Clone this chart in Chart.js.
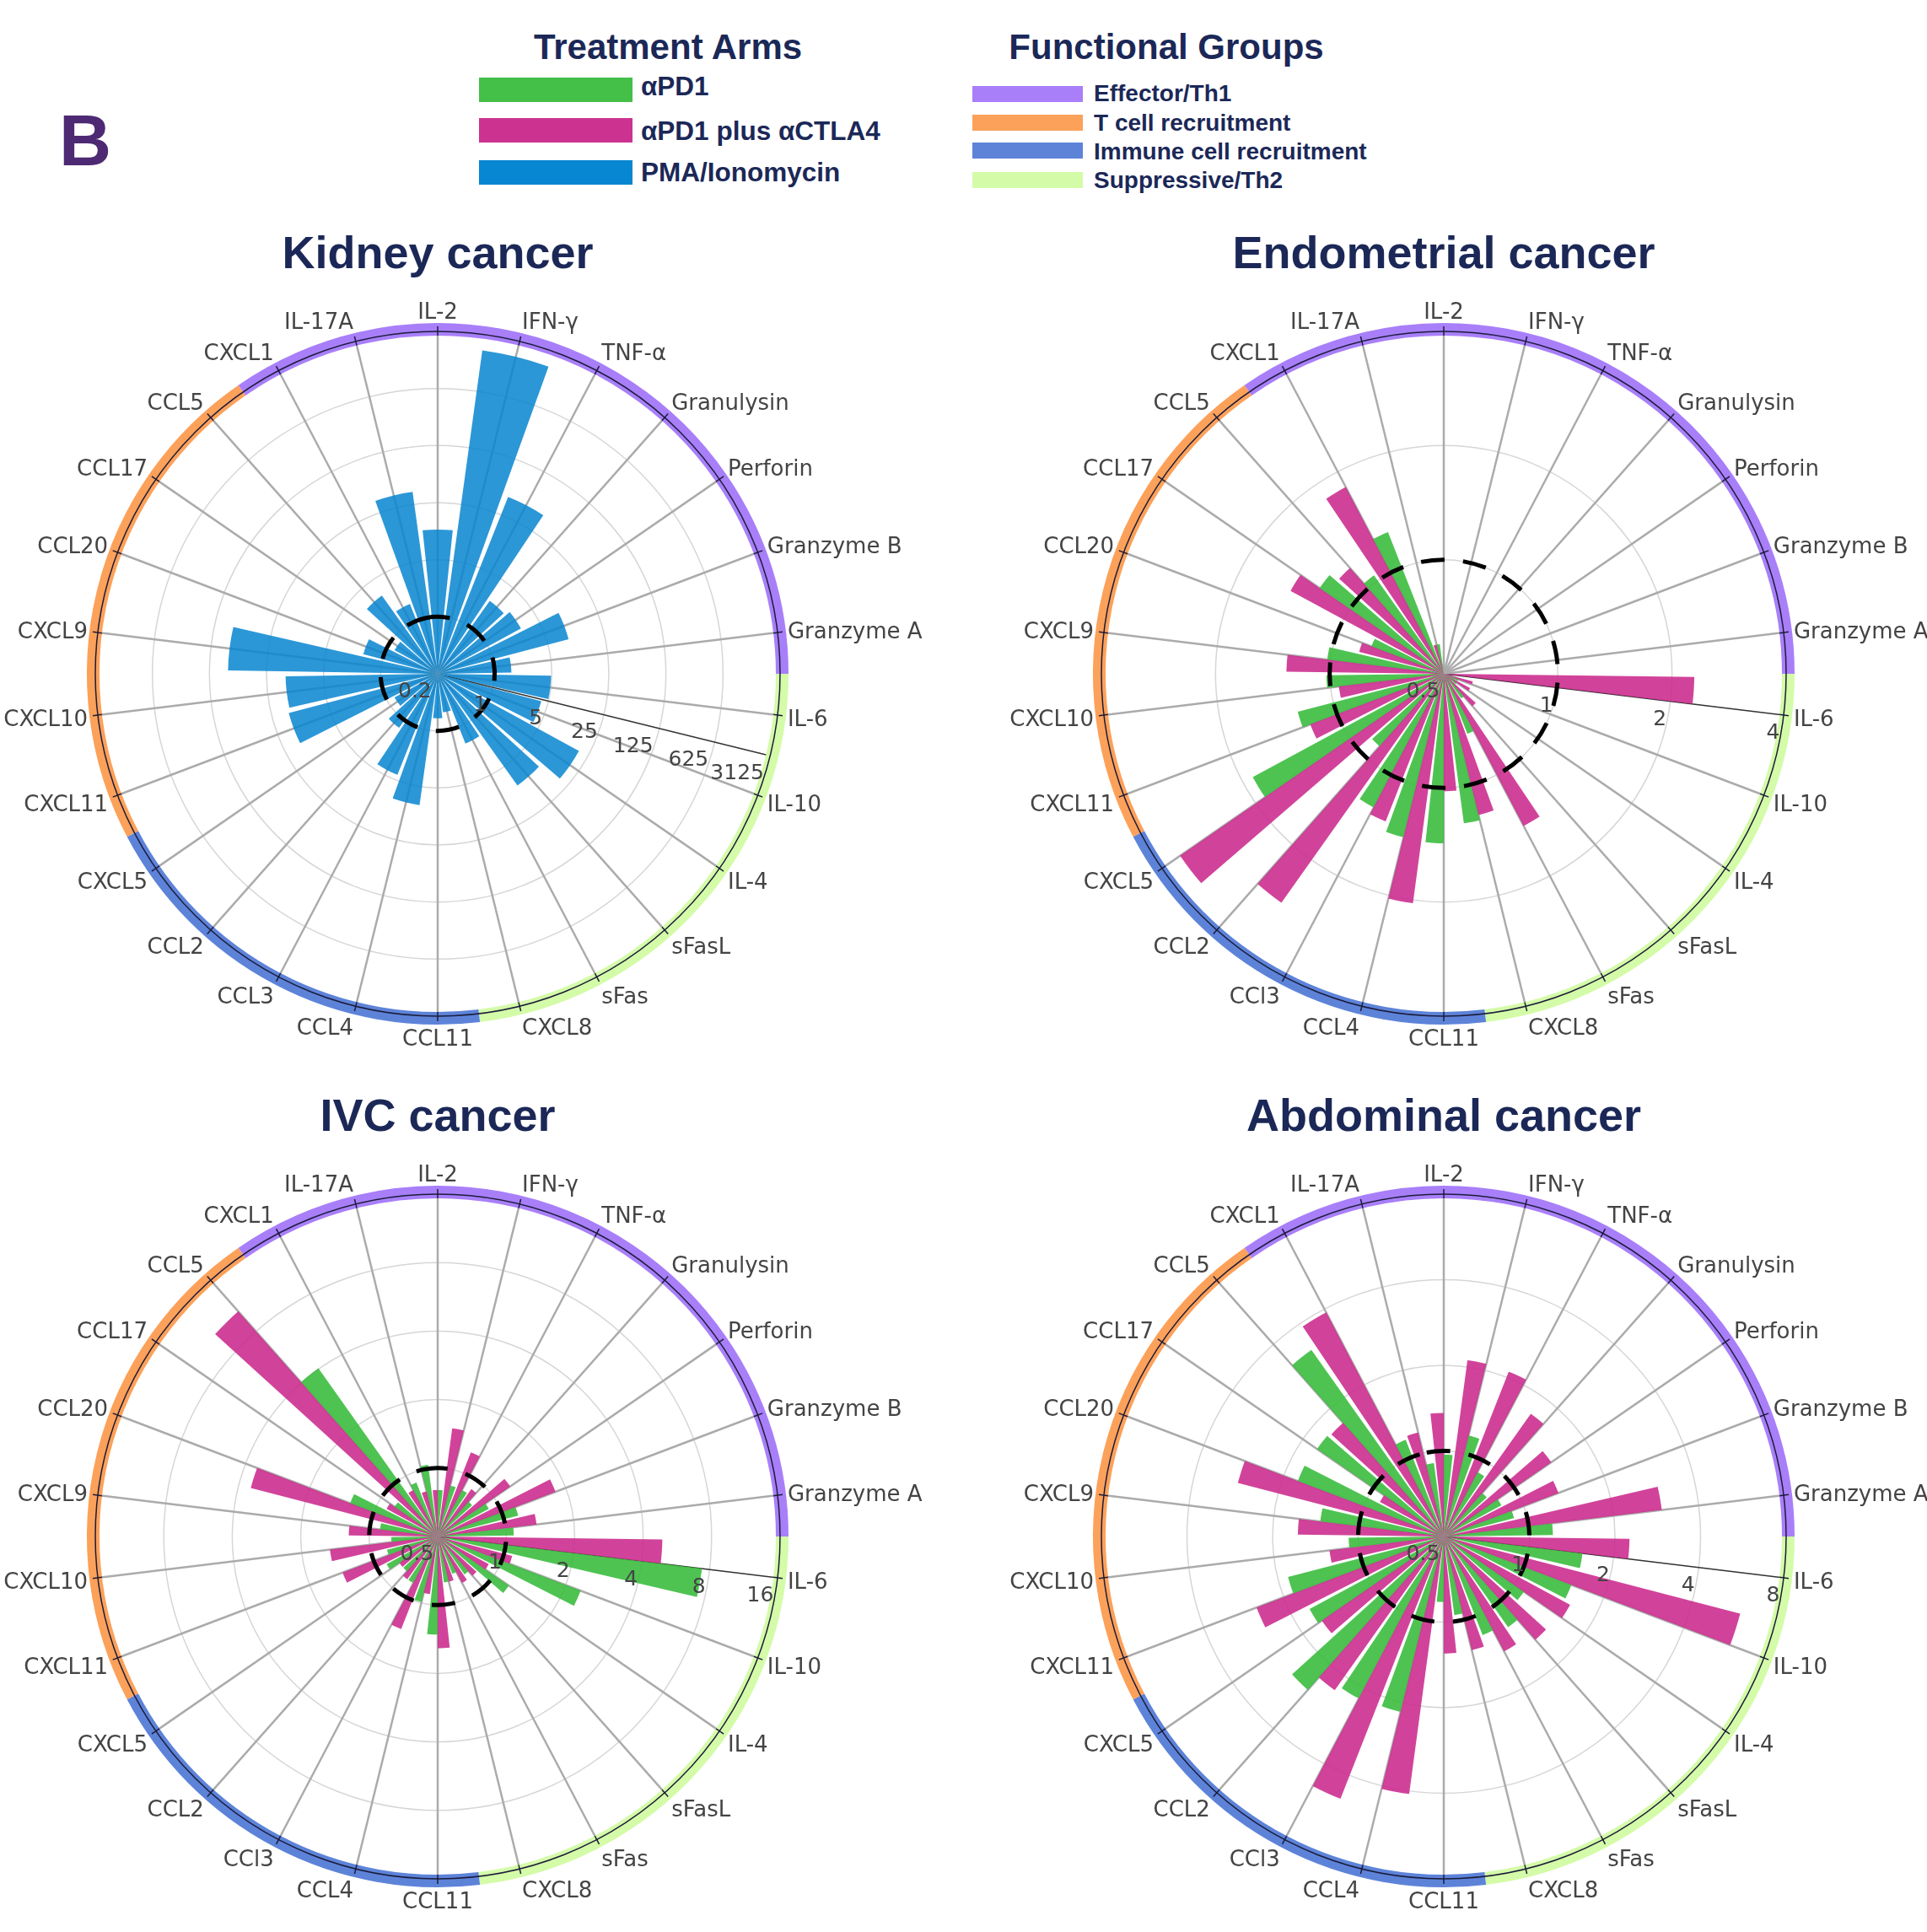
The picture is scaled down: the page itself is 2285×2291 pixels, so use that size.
<!DOCTYPE html>
<html lang="en">
<head>
<meta charset="utf-8">
<title>Cytokine release by tumour type</title>
<script src="https://cdn.jsdelivr.net/npm/chart.js@4.4.1/dist/chart.umd.min.js"></script>
<style>
  html, body { margin: 0; padding: 0; background: #fff; }
  body { position: relative; width: 2285px; height: 2291px; overflow: hidden;
         font-family: "Liberation Sans", Arial, sans-serif; color: #1b2857; }
  .abs { position: absolute; white-space: nowrap; line-height: 1; font-weight: bold; }
  .letter { left: 70px; top: 123px; font-size: 86px; color: #4d2a73; }
  .legend-title { font-size: 42px; transform: translateX(-50%); }
  .chart-title { font-size: 54px; transform: translateX(-50%); }
  .swatch { position: absolute; }
  canvas { position: absolute; }
</style>
</head>
<body>
<div class="abs letter">B</div>
<div id="legend"></div>
<div id="panels"></div>
<script>
const $ = id => document.getElementById(id);

// categories, clockwise from the top
const cytokines = ['IL-2', 'IFN-γ', 'TNF-α', 'Granulysin', 'Perforin', 'Granzyme B', 'Granzyme A',
    'IL-6', 'IL-10', 'IL-4', 'sFasL', 'sFas', 'CXCL8', 'CCL11', 'CCL4', 'CCL3', 'CCL2', 'CXCL5',
    'CXCL11', 'CXCL10', 'CXCL9', 'CCL20', 'CCL17', 'CCL5', 'CXCL1', 'IL-17A'];
// the three patient panels spell CCL3 as "CCl3"
const cytokinesAlt = cytokines.map(c => c === 'CCL3' ? 'CCl3' : c);

const groups = ['Effector/Th1', 'T cell recruitment', 'Immune cell recruitment', 'Suppressive/Th2'];
const groupColors = ['#a87ff9', '#fca15a', '#5d83d9', '#d4fba8'];
const groupOf = ['Effector/Th1', 'Effector/Th1', 'Effector/Th1', 'Effector/Th1', 'Effector/Th1', 'Effector/Th1', 'Effector/Th1',
    'Suppressive/Th2', 'Suppressive/Th2', 'Suppressive/Th2', 'Suppressive/Th2', 'Suppressive/Th2', 'Suppressive/Th2',
    'Immune cell recruitment', 'Immune cell recruitment', 'Immune cell recruitment', 'Immune cell recruitment', 'Immune cell recruitment',
    'T cell recruitment', 'T cell recruitment', 'T cell recruitment', 'T cell recruitment', 'T cell recruitment', 'T cell recruitment',
    'Effector/Th1', 'Effector/Th1'];

const arms = ['αPD1', 'αPD1 plus αCTLA4', 'PMA/Ionomycin'];
const armColors = ['#3cbc3fe6', '#cc2f8fe6', '#0785d0d9'];
const armSwatch = ['#44bf48', '#cc3390', '#0786d1'];

// fold change values (log radial axis)
const kidneyPMA = [11.7, 2000, 43, 2.5, 2.9, 9.1, 1.6, 4.9, 4.1, 18.7, 9.6, 1.66, 0.6,
    0.7, 8.4, 4.3, 1.3, 0.8, 15.4, 14.6, 74, 1.75, 0.8, 3.0, 1.66, 35.6];
const endometrialPD1 = [0.5, 0.5, 0.5, 0.5, 0.5, 0.5, 0.5, 0.5, 0.55, 0.55, 0.6, 0.74, 1.25,
    1.40, 1.39, 1.25, 0.9, 1.87, 1.25, 1.02, 1.02, 0.8, 1.25, 1.04, 1.26, 0.6];
const endometrialCombo = [0.5, 0.5, 0.5, 0.5, 0.5, 0.5, 0.5, 2.29, 0.6, 0.6, 0.65, 1.42, 1.21,
    1.02, 2.04, 1.31, 2.75, 3.5, 1.19, 0.95, 1.30, 0.85, 1.44, 1.18, 1.80, 0.6];
const ivcPD1 = [0.8, 0.85, 0.85, 0.8, 0.9, 1.16, 1.08, 7.4, 2.35, 1.2, 0.8, 0.75, 0.8,
    1.35, 0.99, 0.85, 0.8, 0.9, 0.85, 0.8, 0.9, 1.29, 0.85, 4.03, 0.9, 1.04];
const ivcCombo = [0.8, 1.51, 1.25, 0.9, 1.22, 1.79, 1.37, 4.86, 1.09, 0.9, 0.85, 0.85, 0.8,
    1.55, 0.9, 1.37, 0.85, 0.8, 1.40, 1.50, 1.23, 3.53, 0.9, 10.5, 0.85, 0.8];
const abdominalPD1 = [0.97, 1.16, 0.9, 0.8, 0.85, 0.9, 1.21, 1.55, 1.51, 1.1, 1.23, 1.18, 0.95,
    0.85, 2.16, 2.2, 2.63, 1.72, 1.84, 1.08, 1.37, 1.77, 1.74, 3.19, 1.16, 0.91];
const abdominalCombo = [1.36, 2.11, 2.1, 1.69, 1.44, 1.35, 2.96, 2.25, 5.97, 1.6, 1.53, 1.43, 1.29,
    1.29, 4.1, 4.9, 2.3, 1.66, 2.53, 1.27, 1.63, 2.8, 0.9, 1.71, 3.88, 1.19];

// radial tick labels
const kidneyTicks = [0.2, 1, 5, 25, 125, 625, 3125];
const endometrialTicks = [0.5, 1, 2, 4];
const ivcTicks = [0.5, 1, 2, 4, 8, 16];
const abdominalTicks = [0.5, 1, 2, 4, 8];

const panels = [
    {title: 'Kidney cancer', cx: 519, cy: 799, labels: cytokines, ticks: kidneyTicks, axisIndex: 16,
        series: [{arm: 2, values: kidneyPMA}]},
    {title: 'Endometrial cancer', cx: 1712, cy: 799, labels: cytokinesAlt, ticks: endometrialTicks, axisIndex: 15,
        series: [{arm: 1, values: endometrialCombo}, {arm: 0, values: endometrialPD1}]},
    {title: 'IVC cancer', cx: 519, cy: 1822, labels: cytokinesAlt, ticks: ivcTicks, axisIndex: 15,
        series: [{arm: 1, values: ivcCombo}, {arm: 0, values: ivcPD1}]},
    {title: 'Abdominal cancer', cx: 1712, cy: 1822, labels: cytokinesAlt, ticks: abdominalTicks, axisIndex: 15,
        series: [{arm: 1, values: abdominalCombo}, {arm: 0, values: abdominalPD1}]},
];

const SECTOR = 360 / cytokines.length;

// angular slots inside one category sector: gap, bar(s), gap
const slotLayout = nSeries => {
    if (nSeries === 1) return [0.93, SECTOR - 1.86, 0.93];
    const w = (SECTOR - 1.46) / 2;
    return [0.73, w, w, 0.73];
};

// group band, outer line, dashed "1" circle, radial tick labels and category labels
const decor = {
    id: 'decor',
    afterDatasetsDraw(chart, args, o) {
        const s = chart.scales.r, ctx = chart.ctx;
        const R = s.drawingArea, cx = s.xCenter, cy = s.yCenter;
        const n = cytokines.length, step = 2 * Math.PI / n;
        const ang = j => s.getIndexAngle(j) - Math.PI / 2;
        ctx.save();
        const first = groupOf.findIndex((g, i) => g !== groupOf[(i + n - 1) % n]);
        let i = 0;
        while (i < n) {
            const k = (first + i) % n, g = groupOf[k];
            let len = 1;
            while (i + len < n && groupOf[(first + i + len) % n] === g) len++;
            const a0 = ang(2 * k);
            ctx.beginPath();
            ctx.arc(cx, cy, R + 2.5, a0, a0 + len * step);
            ctx.strokeStyle = groupColors[groups.indexOf(g)];
            ctx.lineWidth = 15;
            ctx.stroke();
            i += len;
        }
        ctx.strokeStyle = '#1c1c3a';
        ctx.lineWidth = 1.5;
        ctx.beginPath();
        ctx.arc(cx, cy, R, 0, 2 * Math.PI);
        ctx.stroke();
        for (let c = 0; c < n; c++) {
            const a = ang(2 * c + 1);
            ctx.beginPath();
            ctx.moveTo(cx + Math.cos(a) * (R - 5), cy + Math.sin(a) * (R - 5));
            ctx.lineTo(cx + Math.cos(a) * (R + 6), cy + Math.sin(a) * (R + 6));
            ctx.stroke();
        }
        const r1 = s.getDistanceFromCenterForValue(0);
        ctx.beginPath();
        ctx.setLineDash([28, 22]);
        ctx.lineWidth = 5;
        ctx.strokeStyle = '#000';
        ctx.arc(cx, cy, r1, -Math.PI / 2 - 0.2, 1.5 * Math.PI - 0.2);
        ctx.stroke();
        ctx.setLineDash([]);

        ctx.fillStyle = '#444';
        ctx.textBaseline = 'middle';
        const a = ang(o.axisIndex);
        ctx.font = '25px "DejaVu Sans"';
        ctx.textAlign = 'right';
        s.ticks.forEach(t => {
            const d = s.getDistanceFromCenterForValue(t.value);
            ctx.fillText(String(t.label), cx + Math.cos(a) * d - Math.sin(a) * 22 - 2, cy + Math.sin(a) * d + Math.cos(a) * 22);
        });

        ctx.font = '26px "DejaVu Sans"';
        chart.data.labels.forEach((lab, j) => {
            if (!lab) return;
            const b = ang(j), h = 26, d = R + 12;
            const c = Math.cos(b);
            ctx.textAlign = Math.abs(c) < 0.01 ? 'center' : (c > 0 ? 'left' : 'right');
            ctx.fillText(lab, cx + c * d, cy + Math.sin(b) * (d + h / 2) + 3);
        });
        ctx.restore();
    }
};

const drawPanel = p => {
    const W = 1400, H = 952, PAD = 70;
    const title = document.createElement('div');
    title.className = 'abs chart-title';
    title.style.left = p.cx + 'px';
    title.style.top = (p.cy - 527) + 'px';
    title.innerText = p.title;
    $('panels').appendChild(title);

    const canvas = document.createElement('canvas');
    canvas.width = W; canvas.height = H;
    canvas.style.left = (p.cx - W / 2) + 'px';
    canvas.style.top = (p.cy - H / 2) + 'px';
    canvas.style.width = W + 'px'; canvas.style.height = H + 'px';
    $('panels').appendChild(canvas);

    const base = p.ticks[1] / p.ticks[0];
    const logb = v => Math.log(v) / Math.log(base);
    const lo = logb(p.ticks[0]), hi = logb(p.ticks[p.ticks.length - 1]);
    const toR = v => Math.min(hi, Math.max(lo, logb(v)));
    const lay = slotLayout(p.series.length);
    const angles = p.labels.flatMap(() => lay);
    // spokes: even index = sector boundary (hidden), odd index = category
    const spokeLabels = p.labels.flatMap(l => ['', l]);

    const datasets = p.series.map((s, k) => ({
        label: arms[s.arm],
        data: s.values.flatMap(v => lay.map((_, j) => j === k + 1 ? toR(v) : lo)),
        angle: angles,
        backgroundColor: armColors[s.arm],
        borderWidth: 0
    }));

    new Chart(canvas.getContext('2d'), {
        type: 'polarArea',
        data: {labels: spokeLabels, datasets},
        options: {
            responsive: false,
            animation: false,
            devicePixelRatio: 1,
            events: [],
            layout: {padding: PAD},
            plugins: {
                legend: {display: false},
                tooltip: {enabled: false},
                decor: {axisIndex: p.axisIndex}
            },
            scales: {
                r: {
                    min: lo,
                    max: hi,
                    startAngle: -SECTOR / 2,
                    ticks: {display: false, stepSize: 1, callback: (v, i) => p.ticks[i]},
                    grid: {circular: true, color: '#d6d6d6', lineWidth: 1.5},
                    angleLines: {
                        display: true,
                        color: c => c.index === p.axisIndex ? '#333' : '#ababab',
                        lineWidth: c => c.index === p.axisIndex ? 1.5 : (c.index % 2 ? 2.5 : 0)
                    },
                    pointLabels: {display: false}
                }
            }
        },
        plugins: [decor]
    });
};

const drawLegend = () => {
    const add = (cls, css, text) => {
        const d = document.createElement('div');
        d.className = cls;
        Object.assign(d.style, css);
        if (text) d.innerText = text;
        $('legend').appendChild(d);
    };
    add('abs legend-title', {left: '792px', top: '35px'}, 'Treatment Arms');
    add('abs legend-title', {left: '1383px', top: '35px'}, 'Functional Groups');
    arms.forEach((a, i) => {
        const top = [92, 140, 190][i];
        add('swatch', {left: '568px', top: top + 'px', width: '182px', height: '29px', background: armSwatch[i]});
        add('abs', {left: '760px', top: [87, 140, 189][i] + 'px', fontSize: '31.5px'}, a);
    });
    groups.forEach((g, i) => {
        const top = [102, 136, 169, 204][i];
        add('swatch', {left: '1153px', top: top + 'px', width: '131px', height: '19px', background: groupColors[i]});
        add('abs', {left: '1297px', top: [97, 132, 166, 200][i] + 'px', fontSize: '28px'}, g);
    });
};

drawLegend();
panels.forEach(drawPanel);
</script>
</body>
</html>
